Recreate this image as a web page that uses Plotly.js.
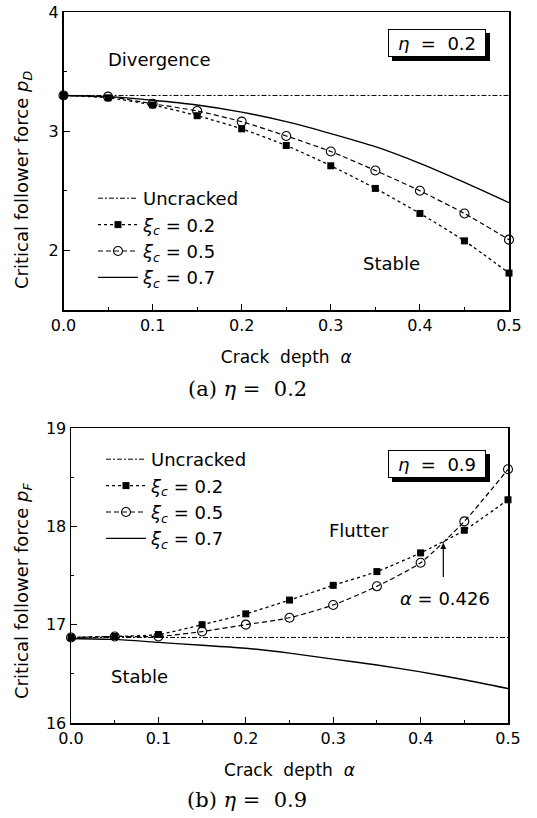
<!DOCTYPE html>
<html>
<head>
<meta charset="utf-8">
<script src="https://cdn.plot.ly/plotly-3.0.1.min.js"></script>
<style>html,body{margin:0;padding:0;background:#fff;}#chart{width:537px;height:818px;}</style>
</head>
<body>
<div id="chart"></div>
<script>
// Crack depth values
const alpha = [0, 0.05, 0.1, 0.15, 0.2, 0.25, 0.3, 0.35, 0.4, 0.45, 0.5];

// (a) eta = 0.2, divergence load p_D
const aUncracked = [3.30, 3.30, 3.30, 3.30, 3.30, 3.30, 3.30, 3.30, 3.30, 3.30, 3.30];
const aXi02 = [3.30, 3.28, 3.22, 3.13, 3.02, 2.88, 2.71, 2.52, 2.31, 2.08, 1.81];
const aXi05 = [3.30, 3.29, 3.23, 3.17, 3.08, 2.96, 2.83, 2.67, 2.50, 2.31, 2.09];
const aXi07 = [3.30, 3.29, 3.26, 3.22, 3.16, 3.08, 2.98, 2.87, 2.73, 2.57, 2.40];

// (b) eta = 0.9, flutter load p_F
const bUncracked = [16.87, 16.87, 16.87, 16.87, 16.87, 16.87, 16.87, 16.87, 16.87, 16.87, 16.87];
const bXi02 = [16.87, 16.88, 16.90, 17.00, 17.11, 17.25, 17.40, 17.54, 17.73, 17.96, 18.27];
const bXi05 = [16.87, 16.88, 16.88, 16.93, 17.00, 17.07, 17.20, 17.39, 17.63, 18.05, 18.58];
const bXi07 = [16.86, 16.85, 16.82, 16.79, 16.76, 16.71, 16.65, 16.59, 16.52, 16.44, 16.35];

const legendNames = ['Uncracked', '<i>ξ</i><sub><i>c</i></sub> = 0.2', '<i>ξ</i><sub><i>c</i></sub> = 0.5', '<i>ξ</i><sub><i>c</i></sub> = 0.7'];
const crossAlpha = 0.426;

const W = 537, H = 818;
const font = 'DejaVu Sans, Arial, sans-serif';
const serif = 'DejaVu Serif, Times New Roman, serif';

function mk(y, i, xa, ya, leg) {
  const styles = [
    {mode: 'lines', line: {color: 'black', width: 1, dash: '5px,2px,2px,2px'}},
    {mode: 'lines+markers', line: {color: 'black', width: 1.3, dash: 'dot', shape: 'spline', smoothing: 0.6},
     marker: {symbol: 'square', size: 7, color: 'black'}},
    {mode: 'lines+markers', line: {color: 'black', width: 1.2, dash: '5px,3px', shape: 'spline', smoothing: 0.6},
     marker: {symbol: 'circle-open', size: 9, color: 'black', line: {width: 1.1}}},
    {mode: 'lines', line: {color: 'black', width: 1.4, shape: 'spline', smoothing: 0.6}}
  ];
  return Object.assign({x: alpha, y: y, name: legendNames[i], xaxis: xa, yaxis: ya, legend: leg, cliponaxis: false}, styles[i]);
}

const data = [
  mk(aUncracked, 0, 'x', 'y', 'legend'),
  mk(aXi02, 1, 'x', 'y', 'legend'),
  mk(aXi05, 2, 'x', 'y', 'legend'),
  mk(aXi07, 3, 'x', 'y', 'legend'),
  mk(bUncracked, 0, 'x2', 'y2', 'legend2'),
  mk(bXi02, 1, 'x2', 'y2', 'legend2'),
  mk(bXi05, 2, 'x2', 'y2', 'legend2'),
  mk(bXi07, 3, 'x2', 'y2', 'legend2')
];

function xax(dom, anchor) {
  return {
    domain: dom, anchor: anchor, range: [0, 0.5], dtick: 0.1, tick0: 0, tickformat: '.1f',
    ticks: 'inside', ticklen: 6, tickwidth: 1, tickcolor: 'black',
    minor: {dtick: 0.05, ticks: 'inside', ticklen: 3, tickcolor: 'black'},
    showline: true, mirror: true, linecolor: 'black', linewidth: 1.5,
    showgrid: false, zeroline: false,
    tickfont: {family: font, size: 16, color: 'black'},
    title: {text: 'Crack  depth  <i>α</i>', font: {family: font, size: 17, color: 'black'}, standoff: 17}
  };
}
function yax(dom, anchor, range) {
  return {
    domain: dom, anchor: anchor, range: range, dtick: 1, tick0: 0,
    ticks: 'inside', ticklen: 6, tickwidth: 1, tickcolor: 'black',
    minor: {dtick: 0.5, ticks: 'inside', ticklen: 3, tickcolor: 'black'},
    showline: true, mirror: true, linecolor: 'black', linewidth: 1.5,
    showgrid: false, zeroline: false,
    tickfont: {family: font, size: 16, color: 'black'}
  };
}

const shapes = [];
function box(txt, xa, ya, xv, yv) {
  // drop shadow behind the label box
  shapes.push({type: 'rect', xref: xa + ' domain', yref: ya + ' domain',
    xsizemode: 'pixel', ysizemode: 'pixel', xanchor: xv, yanchor: yv,
    x0: -45, x1: 53, y0: -18, y1: 10, fillcolor: 'black', line: {width: 0}, layer: 'above'});
  return [
    {xref: xa + ' domain', yref: ya + ' domain', x: xv, y: yv, xanchor: 'center', yanchor: 'middle',
     text: txt, showarrow: false, width: 90, height: 20,
     bgcolor: 'white', bordercolor: 'black', borderwidth: 1, borderpad: 3,
     font: {family: font, size: 18, color: 'black'}}
  ];
}

const annFont = {family: font, size: 18, color: 'black'};
const titleFont = {family: font, size: 18, color: 'black'};
const annotations = [].concat(
  box('<i>η</i>  =  0.2', 'x', 'y', (437 - 63.5) / 445.5, (310 - 43) / 298),
  box('<i>η</i>  =  0.9', 'x2', 'y2', (437 - 71) / 437, (723 - 464) / 295),
  [
    {xref: 'paper', yref: 'paper', x: 23 / W, y: 1 - 180 / H, xanchor: 'center', yanchor: 'middle', textangle: -90,
     text: 'Critical follower force <i>p</i><sub><i>D</i></sub>', showarrow: false, font: titleFont},
    {xref: 'paper', yref: 'paper', x: 23 / W, y: 1 - 591 / H, xanchor: 'center', yanchor: 'middle', textangle: -90,
     text: 'Critical follower force <i>p</i><sub><i>F</i></sub>', showarrow: false, font: titleFont},
    {xref: 'x', yref: 'y', x: 0.108, y: 3.6, text: 'Divergence', showarrow: false, font: annFont},
    {xref: 'x', yref: 'y', x: 0.368, y: 1.89, text: 'Stable', showarrow: false, font: annFont},
    {xref: 'x2', yref: 'y2', x: 0.33, y: 17.96, text: 'Flutter', showarrow: false, font: annFont},
    {xref: 'x2', yref: 'y2', x: 0.078, y: 16.47, text: 'Stable', showarrow: false, font: annFont},
    {xref: 'x2', yref: 'y2', x: 0.428, y: 17.27, text: '<i>α</i> = 0.426', showarrow: false, font: annFont},
    {xref: 'x2', yref: 'y2', axref: 'x2', ayref: 'y2', x: crossAlpha, y: 17.83, ax: crossAlpha, ay: 17.47,
     text: '', showarrow: true, arrowhead: 2, arrowsize: 1, arrowwidth: 1.2, arrowcolor: 'black'},
    {xref: 'paper', yref: 'paper', x: 247 / W, y: 1 - 389 / H, xanchor: 'center', yanchor: 'middle',
     text: '(a) <i>η</i> =  0.2', showarrow: false, font: {family: serif, size: 21, color: 'black'}},
    {xref: 'paper', yref: 'paper', x: 247 / W, y: 1 - 800 / H, xanchor: 'center', yanchor: 'middle',
     text: '(b) <i>η</i> =  0.9', showarrow: false, font: {family: serif, size: 21, color: 'black'}}
  ]
);

const legendBase = {
  xanchor: 'left', yanchor: 'top', bgcolor: 'rgba(0,0,0,0)', borderwidth: 0,
  font: {family: font, size: 18, color: 'black'}, tracegroupgap: 0, itemwidth: 40
};

const layout = {
  width: W, height: H,
  margin: {l: 0, r: 0, t: 0, b: 0},
  paper_bgcolor: 'white', plot_bgcolor: 'white',
  xaxis: xax([63.5 / W, 509 / W], 'y'),
  yaxis: yax([1 - 310 / H, 1 - 12 / H], 'x', [1.5, 4]),
  xaxis2: xax([71 / W, 508 / W], 'y2'),
  yaxis2: yax([1 - 723 / H, 1 - 428 / H], 'x2', [16, 19]),
  legend: Object.assign({x: 93 / W, y: 1 - 180 / H}, legendBase),
  legend2: Object.assign({x: 101 / W, y: 1 - 441 / H}, legendBase),
  annotations: annotations,
  shapes: shapes,
  showlegend: true
};

Plotly.newPlot('chart', data, layout, {staticPlot: true, displayModeBar: false});
</script>
</body>
</html>
